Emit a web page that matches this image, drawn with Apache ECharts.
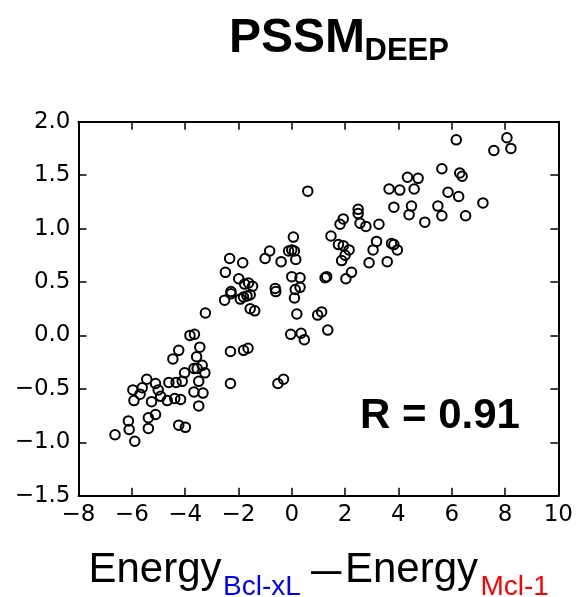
<!DOCTYPE html>
<html>
<head>
<meta charset="utf-8">
<script src="https://cdn.jsdelivr.net/npm/echarts@6/dist/echarts.min.js"></script>
<style>
html,body{margin:0;padding:0;background:#fff;}
#chart{width:576px;height:597px;}
</style>
</head>
<body>
<div id="chart"></div>
<script>
// Tick labels
var xTicks = [-8, -6, -4, -2, 0, 2, 4, 6, 8, 10];
var yTicks = [-1.5, -1.0, -0.5, 0.0, 0.5, 1.0, 1.5, 2.0];

// Energy difference (x) values
var energyDiff = [
  -6.63,-5.89,-6.10,-6.13,-5.38,-5.38,-5.11,-4.24,-3.99,-5.92,
  -5.26,-4.67,-4.92,-5.69,-5.96,-5.01,-5.61,-5.11,-5.44,-4.61,
  -4.34,-4.11,-4.39,-4.17,-3.49,-3.67,-3.33,-3.49,-4.02,-3.67,
  -3.55,-3.36,-3.26,-3.57,-4.46,-4.24,-3.45,-3.82,-3.65,-3.24,
  -2.30,-2.30,-1.81,-1.64,-2.52,-2.28,-1.93,-1.81,-1.68,-1.56,
  -1.56,-1.39,-1.77,-1.62,-1.47,-1.99,-2.49,-2.33,-1.84,-2.28,
  -1.00,-0.83,-0.40,-0.62,-0.60,-0.12,0.00,0.10,0.06,0.15,
  0.00,0.31,0.13,0.31,0.10,0.19,0.60,-0.04,0.35,0.47,
  -0.52,-0.31,0.97,1.12,1.35,1.25,1.31,
  1.47,1.75,1.93,2.15,2.00,1.87,2.24,2.03,1.81,1.93,
  2.49,2.49,2.56,2.78,3.27,3.18,3.05,2.90,3.74,3.83,
  3.96,3.58,3.65,4.05,4.59,4.34,4.74,3.83,4.49,4.40,
  4.99,5.48,5.63,5.63,5.86,6.17,6.26,6.30,6.39,6.52,
  7.17,7.58,8.07,8.22
];
// PSSM_DEEP score (y) values
var pssmScore = [
  -0.93,-0.99,-0.88,-0.80,-0.87,-0.77,-0.74,-0.84,-0.86,-0.61,
  -0.62,-0.61,-0.57,-0.55,-0.51,-0.51,-0.49,-0.45,-0.41,-0.44,
  -0.44,-0.43,-0.59,-0.60,-0.66,-0.53,-0.54,-0.43,-0.35,-0.31,
  -0.31,-0.28,-0.35,-0.20,-0.22,-0.14,-0.11,0.00,0.01,0.21,
  -0.15,-0.45,-0.14,-0.12,0.33,0.39,0.34,0.36,0.37,0.38,
  0.25,0.23,0.48,0.49,0.46,0.53,0.59,0.72,0.68,0.41,
  0.72,0.79,0.69,0.44,0.41,0.79,0.80,0.79,0.92,0.71,
  0.55,0.54,0.43,0.45,0.35,0.20,1.35,0.01,0.02,-0.04,
  -0.45,-0.41,0.19,0.22,0.05,0.54,0.55,
  0.93,0.85,0.84,0.80,0.75,0.70,0.59,0.53,1.04,1.09,
  1.18,1.14,1.05,1.02,1.04,0.88,0.80,0.68,0.86,0.85,
  0.80,0.69,1.37,1.36,1.37,1.48,1.47,1.20,1.21,1.13,
  1.06,1.21,1.12,1.56,1.34,1.83,1.30,1.52,1.49,1.12,
  1.24,1.73,1.85,1.75
];

var points = energyDiff.map(function (x, i) { return [x, pssmScore[i]]; });

function fmtX(v) { return (v < 0 ? '\u2212' : '') + Math.abs(v); }
function fmtY(v) { return (v < 0 ? '\u2212' : '') + Math.abs(v).toFixed(1); }

var tickFont = 'DejaVu Sans';
var axisCommon = {
  axisLine: { show: true, onZero: false, lineStyle: { color: '#000', width: 2 } },
  axisTick: { show: true, inside: true, length: 8, lineStyle: { color: '#000', width: 1.5 } },
  splitLine: { show: false }
};

var chart = echarts.init(document.getElementById('chart'), null, { renderer: 'canvas' });
chart.setOption({
  backgroundColor: '#fff',
  animation: false,
  grid: { left: 78.5, right: 15.5, top: 121.7, bottom: 101.3, containLabel: false },
  xAxis: [
    Object.assign({}, axisCommon, {
      type: 'value', position: 'bottom',
      min: xTicks[0], max: xTicks[xTicks.length - 1], interval: 2,
      axisLabel: { show: true, margin: 8, color: '#000', fontSize: 23, fontFamily: tickFont, formatter: fmtX }
    }),
    Object.assign({}, axisCommon, {
      type: 'value', position: 'top',
      min: xTicks[0], max: xTicks[xTicks.length - 1], interval: 2,
      axisLabel: { show: false }
    })
  ],
  yAxis: [
    Object.assign({}, axisCommon, {
      type: 'value', position: 'left',
      min: yTicks[0], max: yTicks[yTicks.length - 1], interval: 0.5,
      axisLabel: { show: true, margin: 8, color: '#000', fontSize: 23, fontFamily: tickFont, formatter: fmtY }
    }),
    Object.assign({}, axisCommon, {
      type: 'value', position: 'right',
      min: yTicks[0], max: yTicks[yTicks.length - 1], interval: 0.5,
      axisLabel: { show: false }
    })
  ],
  series: [{
    type: 'scatter',
    xAxisIndex: 0, yAxisIndex: 0,
    data: points,
    symbol: 'circle',
    symbolSize: 9.5,
    itemStyle: { color: 'rgba(0,0,0,0)', borderColor: '#000', borderWidth: 2, opacity: 1 },
    emphasis: { disabled: true }
  }],
  graphic: [
    { type: 'text', left: 229, top: 15, style: { text: 'PSSM', font: 'bold 48px "Liberation Sans", Arial, sans-serif', fill: '#000' } },
    { type: 'text', x: 364.5, y: 51, style: { text: 'DEEP', font: 'bold 31px "Liberation Sans", Arial, sans-serif', fill: '#000', verticalAlign: 'middle' } },
    { type: 'text', x: 360, y: 416.7, style: { text: 'R = 0.91', font: 'bold 42px "Liberation Sans", Arial, sans-serif', fill: '#000', verticalAlign: 'middle' } },
    { type: 'text', x: 88.5, y: 570, style: { text: 'Energy', font: '42px "Liberation Sans", Arial, sans-serif', fill: '#000', verticalAlign: 'middle' } },
    { type: 'text', x: 223, y: 587, style: { text: 'Bcl-xL', font: '28px "Liberation Sans", Arial, sans-serif', fill: '#0000ff', verticalAlign: 'middle' } },
    { type: 'text', x: 311, y: 571, scaleX: 1.3, style: { text: '\u2013', font: '42px "Liberation Sans", Arial, sans-serif', fill: '#000', verticalAlign: 'middle' } },
    { type: 'text', x: 345, y: 570, style: { text: 'Energy', font: '42px "Liberation Sans", Arial, sans-serif', fill: '#000', verticalAlign: 'middle' } },
    { type: 'text', x: 480.5, y: 587, style: { text: 'Mcl-1', font: '28px "Liberation Sans", Arial, sans-serif', fill: '#ff0000', verticalAlign: 'middle' } }
  ]
});
</script>
</body>
</html>
